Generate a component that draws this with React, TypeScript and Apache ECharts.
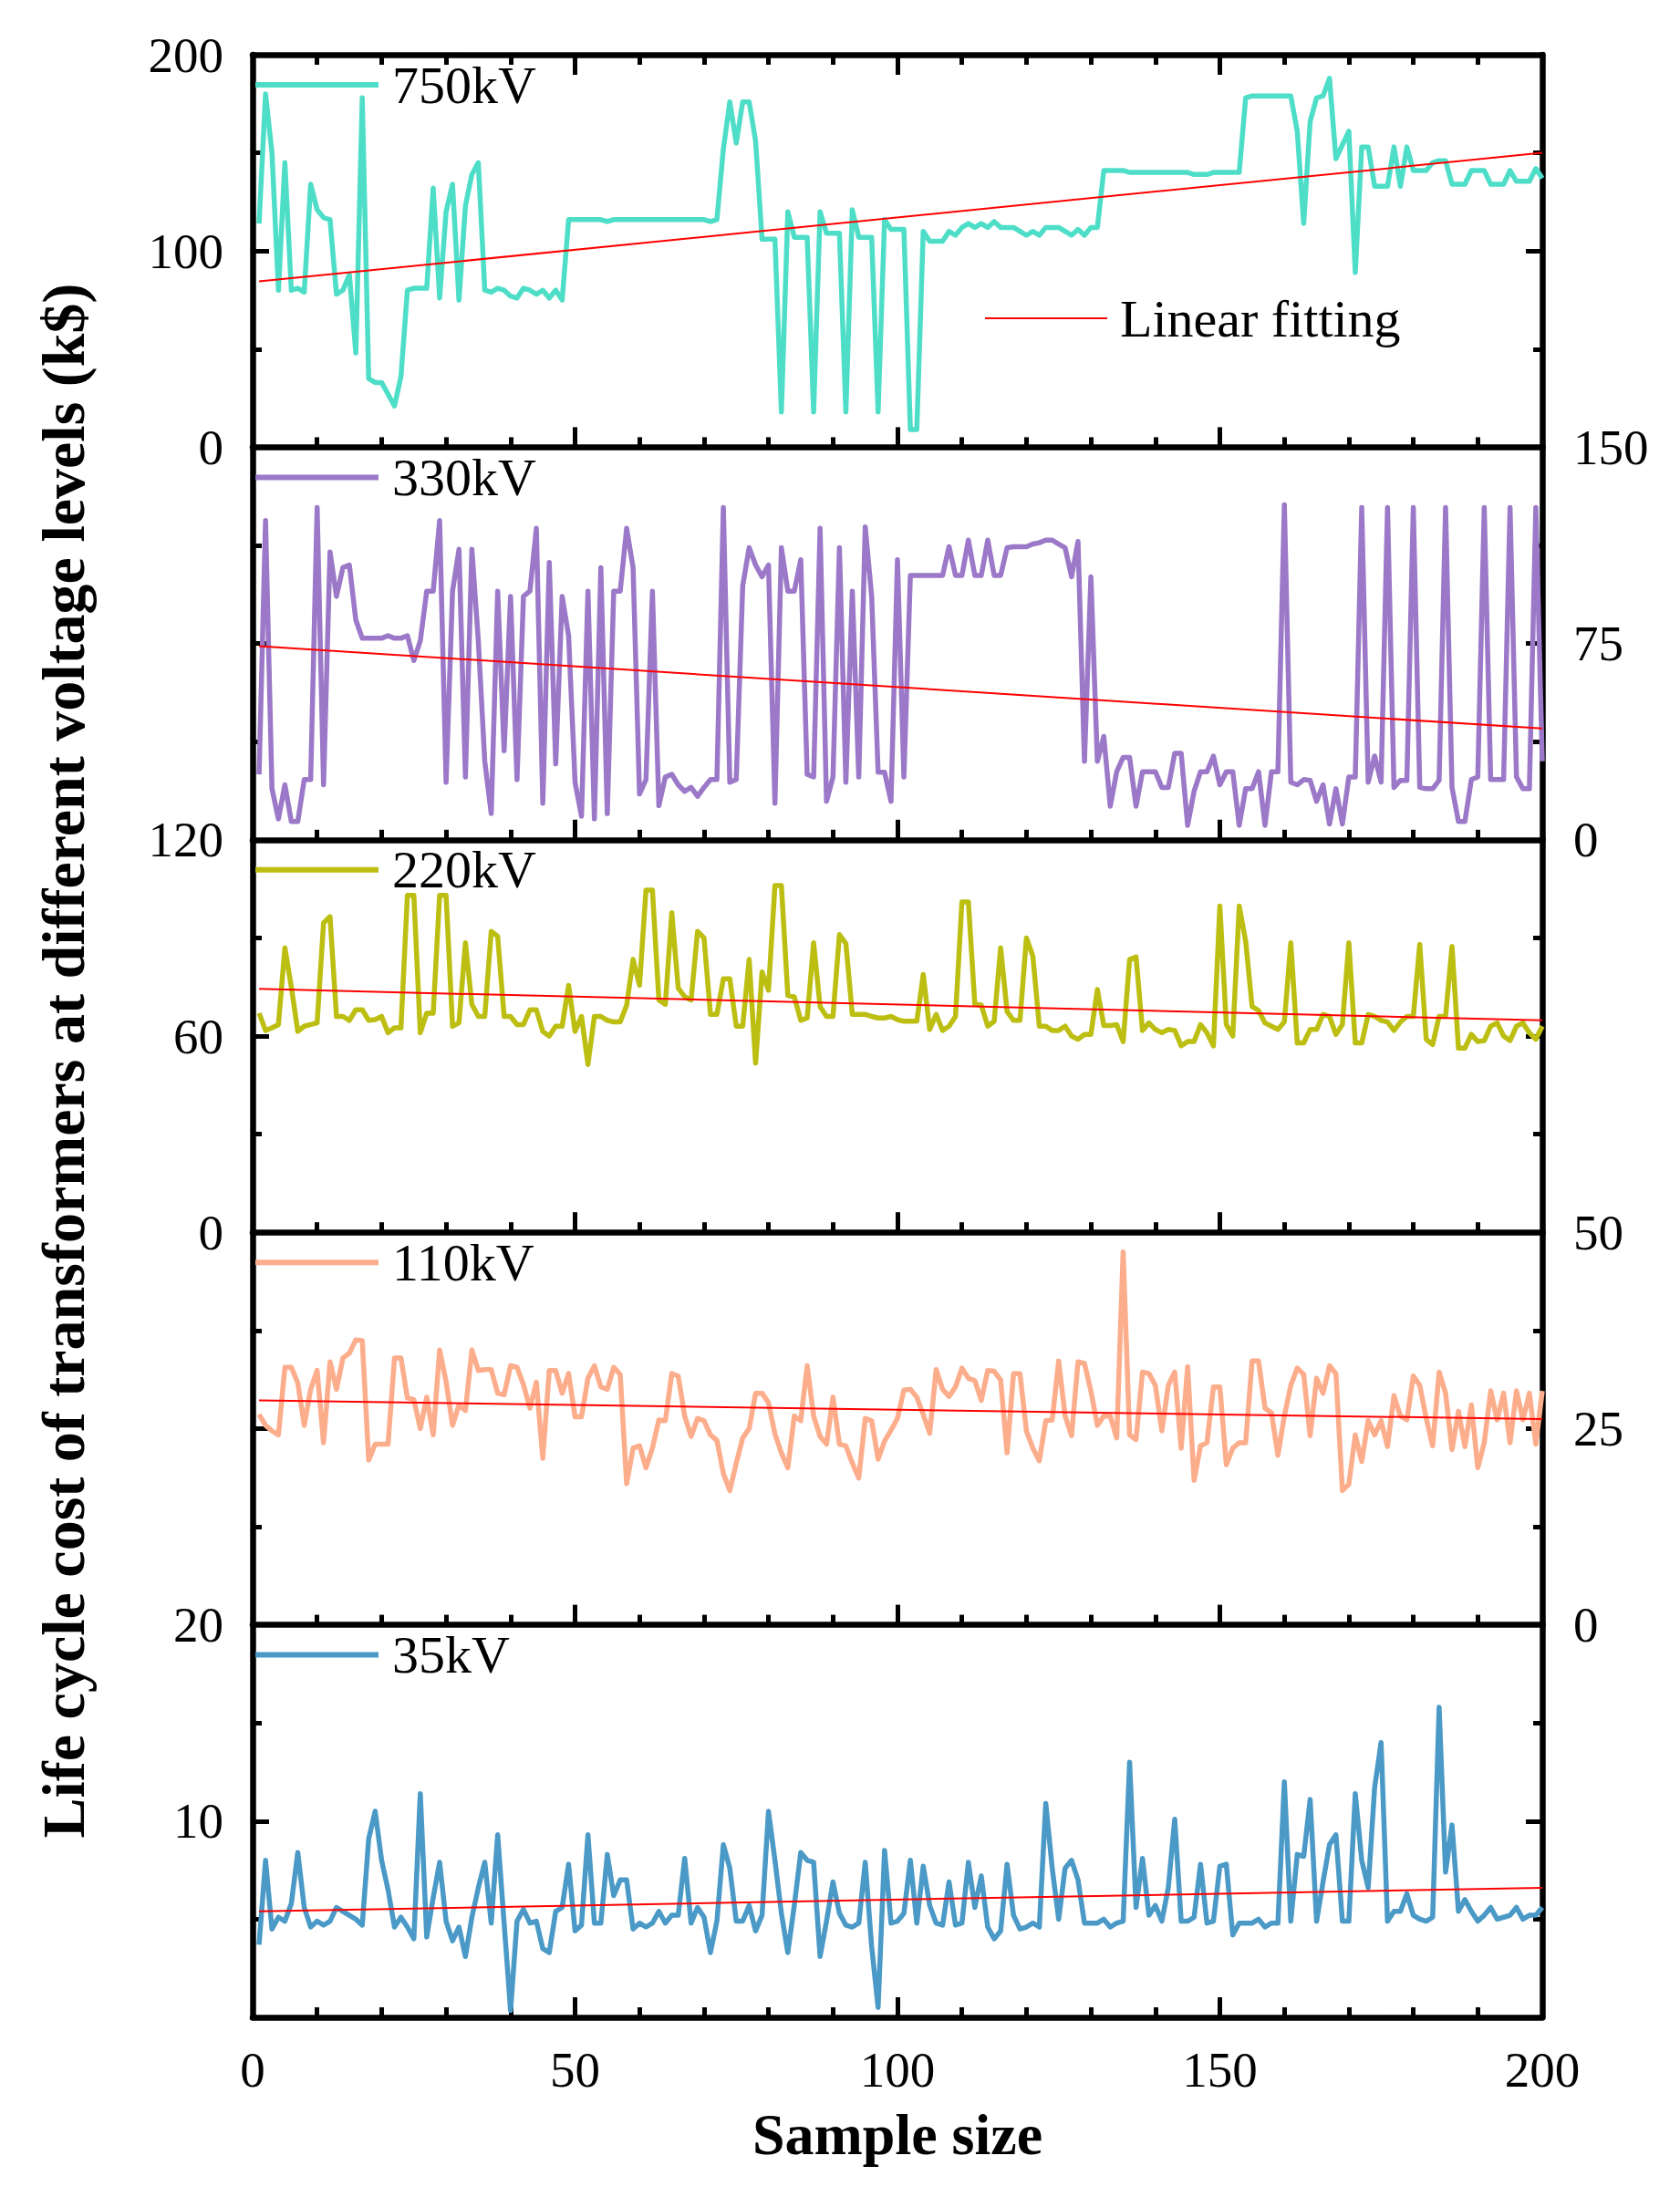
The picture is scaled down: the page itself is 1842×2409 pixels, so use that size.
import React, { useEffect, useRef } from "react";
import * as echarts from "echarts";

// ---- Data, sample index 1..200 ----
const v750 = [114,180,150,80,145,80,81,79,134,121,117,116,78,80,88,48,178,35,33,33,27,21,36,80,81,81,81,132,76,120,134,75,123,139,145,80,79,81,80,77,76,81,80,78,80,76,80,75,116,116,116,116,116,116,115,116,116,116,116,116,116,116,116,116,116,116,116,116,116,116,115,116,152,176,155,176,176,156,106,106,106,18,120,107,107,107,18,120,109,109,109,18,121,107,107,107,18,116,111,111,111,9,9,110,105,105,105,110,108,112,114,112,114,112,115,112,112,112,110,108,110,108,112,112,112,110,108,111,108,112,112,141,141,141,141,140,140,140,140,140,140,140,140,140,140,139,139,139,140,140,140,140,140,178,179,179,179,179,179,179,179,161,114,166,178,179,188,147,154,161,89,153,153,133,133,133,153,133,153,141,141,141,145,146,146,134,134,134,141,141,141,134,134,134,141,135.5,135.5,135.5,142,137];
const v330 = [25,122,19.5,8,21,7,7,23,23,127,21,110,93,104,105,84,77,77,77,77,78,77,77,78,68.5,76,95,95,122,22,95,111,24,111,76,30,10,95,34,93,23,93,95,119,14,106,29,93,78,22,9,95,8,104,10,95,95,119,104,17.5,23,95,13,24,25,21,18.5,20,16.6,20,23,23,127,22,23,97,111.6,105,100.5,105,14,111.6,95,95,107,25,24,119,14.7,24,111.6,22,95,24,119.6,93,25.8,25.8,14.7,107,24,101,101,101,101,101,101,112,101,101,114.5,101,101,114.5,101,101,111.6,112,112,112,113,113.5,114.5,114.5,113,111.6,100.5,114,30,100.5,30,39.5,12.8,26,31.5,31.5,12.8,26,26,26,20,20,33,33,5.5,18.5,26,26,32,21,26,26,5.5,19.5,19.5,26,5.5,26,26,128,22,21,23,22.7,14.7,21,6,19.5,6,24,24,127,22,32,22,127,20,22.7,22.7,127,20,19.5,19.5,22.7,127,20,7,7,23,24,127,23,23,23,127,24,19.5,19.5,127,30];
const v220 = [67,61.7,62.5,63.5,87,75,61.4,63,63.5,64,94.6,96.5,66,66,64.8,68,68,64.8,65,66,61,62.5,62.5,103,103,61,67,67,103,103,63,64,88.5,69.7,66,66,92,90.5,66,66,63.5,63.5,68,68,61.4,60,63,63,75.5,61.4,66,51.3,66,66,64.8,64.3,64.3,69.4,83.4,75.5,104.6,104.6,71,69.7,97.7,74.7,72,71,92,90,66.6,66.6,77.5,77.5,63,63,83.4,51.7,79.6,74,106,106,72.4,72,64.8,65.5,88.5,69,66,66,91,88.3,66.6,66.6,66.6,66,65.5,65.5,66,65,64.5,64.5,64.5,78.8,62,66.6,61.7,63,66,101,101,69.7,69.5,63,64.5,87,67.5,64.8,64.8,90,84.4,63,63,61.7,61.7,63,60,59,60.5,60.5,74.2,63.2,63.2,63.5,58.3,83.4,84.2,61.7,64,62,61,62,61.7,57,58.3,58.3,63.5,61,57,99.7,63.5,60,99.7,89,69,67.8,64,63,62,64.3,88.5,57.9,57.9,62,62,66.6,66,60.5,63.5,88.5,57.9,57.9,66.6,66,64.8,64.3,61.7,64.3,66,66,88,59,57.4,66,66,87.4,56.3,56.3,60.5,58.3,58.6,63,64,60,58.6,63,64,61,59,63];
const v110 = [26.8,25.4,24.7,24.2,32.8,32.8,30.8,25.4,30,32.4,23.2,33.5,30,34,34.6,36.3,36.2,21,23,23,23,34,34,28.9,28.7,25,29,24.2,35,31,25.4,28,27.3,35,32.4,32.5,32.5,29.5,29.3,33,32.8,30.6,27.6,30.9,21.2,32.4,32.4,29.5,32,26.5,26.5,31.4,33,30.3,30,32.8,31.9,18,22.5,22.8,20,22.5,26.1,26,32,31.7,26.6,24,26.3,26,24.2,23.5,19.3,17.1,20.6,23.8,25,29.5,29.5,28.3,24.3,21.9,20,26.6,26,33,26.6,24,23,29,23,22.8,20.6,18.7,26.3,26,21.1,23.4,24.8,26.3,29.9,30,29,26.8,24.4,32.5,30,29.1,30.3,32.7,31.4,31.1,28.6,32.4,32.3,31.2,21.9,32,32,24.7,22.5,20.9,26,26.1,33.6,26.6,24.1,33.5,33.3,29.8,25.4,26.6,26.6,23.8,47.5,24.2,23.6,32.2,32,30.5,24.7,30.5,32.2,22.5,32.9,18.4,22.8,23.2,30.3,30.3,20.4,22.5,23.2,23.2,33.6,33.6,27.6,27,21.6,26.6,30.5,32.7,31.9,24.1,31.4,29.5,33,32,17.1,17.9,24.2,20.8,26,24.2,26,22.7,29.2,26.6,26.1,31.7,30.5,26.3,22.8,32.2,29.5,22.3,27.2,22.7,28,20,23.2,29.8,26.1,29.5,23.2,29.8,26.1,29.5,23,29.8];
const v35 = [3.7,8,4.5,5.1,4.9,5.8,8.4,5.6,4.6,4.9,4.7,4.9,5.6,5.4,5.2,5,4.7,9.1,10.5,8,6.5,4.6,5.1,4.6,4,11.4,4.1,6.1,7.9,4.9,3.9,4.6,3.1,5.1,6.6,7.9,4.8,9.3,4.8,0.35,4.9,5.5,4.8,4.9,3.5,3.3,5.4,5.6,7.8,4.4,4.7,9.3,4.8,4.8,8.3,6.2,7,7,4.5,4.8,4.6,4.8,5.4,4.8,5.2,5.2,8.1,4.8,5.6,5.1,3.3,4.9,8.8,7.6,4.9,4.9,5.7,4.4,5.2,10.5,8,5.3,3.3,5.7,8.4,8,7.9,3.1,4.9,6.9,5.3,4.7,4.6,4.8,7.9,3.6,0.5,8.5,4.8,4.9,5.3,8,4.8,7.7,5.7,4.8,4.7,6.9,4.7,4.8,7.9,5.6,7.2,4.6,4,4.4,7.8,5.2,4.5,4.6,4.8,4.6,10.9,7.6,5,7.6,8,7,4.8,4.8,4.8,5,4.6,4.8,4.9,13,5.6,8.1,5.2,5.7,4.9,6.6,10.1,4.9,4.9,5.1,7.8,4.8,4.9,7.7,7.8,4.2,4.8,4.8,4.8,5,4.6,4.8,4.8,12,4.9,8.3,8.2,11.1,4.9,6.9,8.8,9.3,4.9,4.9,11.4,8,6.6,11.7,14,4.9,5.4,5.4,6.3,5.2,5,4.9,5.1,15.8,7.4,9.8,5.4,6,5.4,4.9,5.2,5.6,5,5.1,5.2,5.6,5,5.2,5.2,5.6];

// Linear fitting values at sample 1 and sample 200
const fit750 = [84.5, 150];
const fit330 = [74, 42.5];
const fit220 = [74.4, 64.8];
const fit110 = [28.6, 26.2];
const fit35 = [5.4, 6.6];
const fitX = [1, 200];

const seriesNames = ["750kV", "330kV", "220kV", "110kV", "35kV"];
const fitName = "Linear fitting";

// Axis tick labels
const xTicks = [0, 50, 100, 150, 200];
const yTicks750 = [0, 100, 200];
const yTicks330 = [0, 75, 150];
const yTicks220 = [0, 60, 120];
const yTicks110 = [0, 25, 50];
const yTicks35 = [0, 10, 20];

const yTitle = "Life cycle cost of transformers at different voltage levels (k$)";
const xTitle = "Sample size";

// ---- styling / layout ----
const colors = ["#4EDEC8", "#9B78C8", "#BCBE12", "#FCAD8C", "#4A99C6"];
const labelSides = ["left", "right", "left", "right", "left"];
const FONT = "Liberation Serif";
const GRID_TOP = 60;
const PANEL_H = 430.4;
const GRID_LEFT = 277;
const GRID_RIGHT = 151;

function buildOption() {
  const values = [v750, v330, v220, v110, v35];
  const fits = [fit750, fit330, fit220, fit110, fit35];
  const yTicks = [yTicks750, yTicks330, yTicks220, yTicks110, yTicks35];

  const grids: any[] = [];
  const xAxes: any[] = [];
  const yAxes: any[] = [];
  const series: any[] = [];
  const legends: any[] = [];

  const lineBlack = { color: "#000", width: 6.5 };
  const tickStyle = { color: "#000", width: 5 };

  const makeX = (i: number, position: string, showLabel: boolean, isBottomPanel: boolean) => ({
    gridIndex: i,
    type: "value",
    position,
    min: xTicks[0],
    max: xTicks[xTicks.length - 1],
    interval: xTicks[1] - xTicks[0],
    axisLine: { show: true, onZero: false, lineStyle: lineBlack },
    axisTick: { show: true, inside: true, length: 22, lineStyle: tickStyle },
    minorTick: { show: true, splitNumber: 5, length: 11, lineStyle: tickStyle },
    splitLine: { show: false },
    minorSplitLine: { show: false },
    axisLabel: {
      show: showLabel,
      margin: 30,
      fontSize: 55,
      fontFamily: FONT,
      color: "#000",
    },
    name: isBottomPanel ? xTitle : "",
    nameLocation: "middle",
    nameGap: 96,
    nameTextStyle: { fontSize: 64, fontWeight: "bold", fontFamily: FONT, color: "#000" },
  });

  for (let i = 0; i < 5; i++) {
    const top = GRID_TOP + i * PANEL_H;
    grids.push({ left: GRID_LEFT, right: GRID_RIGHT, top, height: PANEL_H, containLabel: false });
    xAxes.push(makeX(i, "bottom", i === 4, i === 4));
    if (i === 0) {
      xAxes.push(makeX(0, "top", false, false));
    }
    const yt = yTicks[i];
    ["left", "right"].forEach((pos) => {
      yAxes.push({
        gridIndex: i,
        type: "value",
        position: pos,
        min: yt[0],
        max: yt[yt.length - 1],
        interval: yt[1] - yt[0],
        axisLine: { show: true, onZero: false, lineStyle: lineBlack },
        axisTick: { show: true, inside: true, length: 18, lineStyle: tickStyle },
        minorTick: { show: true, splitNumber: 2, length: 10, lineStyle: tickStyle },
        splitLine: { show: false },
        minorSplitLine: { show: false },
        axisLabel: {
          show: labelSides[i] === pos,
          margin: pos === "left" ? 32 : 34,
          fontSize: 55,
          fontFamily: FONT,
          color: "#000",
          showMinLabel: i !== 4,
        },
      });
    });
    const xIdx = i === 0 ? 0 : i + 1;
    const yIdx = 2 * i;
    series.push({
      type: "line",
      name: seriesNames[i],
      xAxisIndex: xIdx,
      yAxisIndex: yIdx,
      data: values[i].map((v, k) => [k + 1, v]),
      symbol: "none",
      showSymbol: false,
      lineStyle: { color: colors[i], width: 5.5, join: "round" },
      itemStyle: { color: colors[i] },
      z: 2,
    });
    series.push({
      type: "line",
      name: fitName,
      xAxisIndex: xIdx,
      yAxisIndex: yIdx,
      data: fitX.map((x, k) => [x, fits[i][k]]),
      symbol: "none",
      showSymbol: false,
      lineStyle: { color: "#FF0000", width: 2 },
      itemStyle: { color: "#FF0000" },
      z: 3,
    });
    legends.push({
      data: [seriesNames[i]],
      left: GRID_LEFT - 2,
      top: top - 1,
      orient: "horizontal",
      icon: "rect",
      itemWidth: 135,
      itemHeight: 6,
      selectedMode: false,
      textStyle: { fontSize: 58, fontFamily: FONT, color: "#000", padding: [0, 0, 0, 10] },
    });
  }
  legends.push({
    data: [fitName],
    left: 1075,
    top: 315,
    orient: "horizontal",
    icon: "rect",
    itemWidth: 134,
    itemHeight: 2,
    selectedMode: false,
    textStyle: { fontSize: 58, fontFamily: FONT, color: "#000", padding: [0, 0, 0, 9] },
  });

  return {
    animation: false,
    backgroundColor: "#fff",
    textStyle: { fontFamily: FONT },
    grid: grids,
    xAxis: xAxes,
    yAxis: yAxes,
    legend: legends,
    series,
    graphic: [
      {
        type: "text",
        x: 69,
        y: 1163,
        rotation: Math.PI / 2,
        style: {
          text: yTitle,
          fontSize: 66,
          fontWeight: "bold",
          fontFamily: FONT,
          fill: "#000",
          align: "center",
          verticalAlign: "middle",
          textAlign: "center",
          textVerticalAlign: "middle",
        },
      },
    ],
  };
}

export default function App() {
  const ref = useRef<HTMLDivElement | null>(null);
  useEffect(() => {
    document.body.style.margin = "0";
    if (!ref.current) return;
    const chart = echarts.init(ref.current, undefined, { renderer: "svg" });
    chart.setOption(buildOption() as any);
    return () => chart.dispose();
  }, []);
  return <div ref={ref} style={{ width: 1842, height: 2409, background: "#fff" }} />;
}
